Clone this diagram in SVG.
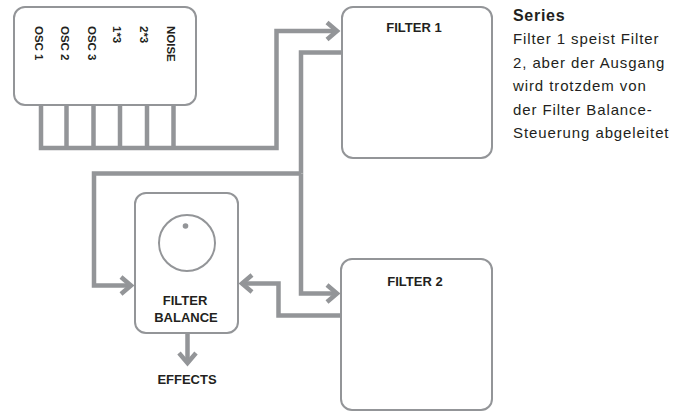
<svg xmlns="http://www.w3.org/2000/svg" width="688" height="413" viewBox="0 0 688 413">
  <defs>
    <marker id="chev" viewBox="-14 -12 18 24" markerWidth="18" markerHeight="24" refX="0" refY="0" orient="auto" markerUnits="userSpaceOnUse">
      <path d="M-10,-8.5 L0,0 L-10,8.5" fill="none" stroke="#939598" stroke-width="4.5" stroke-linejoin="miter" stroke-miterlimit="6"/>
    </marker>
  </defs>
  <style>
    .box { fill: #ffffff; stroke: #939598; stroke-width: 2; }
    .wire { fill: none; stroke: #939598; stroke-width: 4.5; stroke-linejoin: miter; stroke-linecap: butt; }
    .arrow { marker-end: url(#chev); }
    .lbl { font-family: "Liberation Sans", Arial, sans-serif; font-weight: bold; font-size: 13px; fill: #231f20; text-anchor: middle; }
    .osc { font-family: "Liberation Sans", Arial, sans-serif; font-weight: bold; font-size: 11.5px; fill: #231f20; }
    .title { font-family: "Liberation Sans", Arial, sans-serif; font-weight: bold; font-size: 16px; letter-spacing: 0.7px; fill: #231f20; }
    .body { font-family: "Liberation Sans", Arial, sans-serif; font-size: 15px; letter-spacing: 0.9px; fill: #231f20; }
  </style>

  <g id="connectors">
    <path class="wire" d="M66.5,105 V148"/>
    <path class="wire" d="M93.5,105 V148"/>
    <path class="wire" d="M120,105 V148"/>
    <path class="wire" d="M147,105 V148"/>
    <path class="wire" d="M173.5,105 V148"/>
    <path class="wire arrow" d="M41,105 V148 H276.5 V31 H337"/>
    <path class="wire" d="M342,52.5 H301 V173.5"/>
    <path class="wire arrow" d="M301,173.5 V293.5 H337"/>
    <path class="wire arrow" d="M301,173.5 H94 V285.5 H131"/>
    <path class="wire arrow" d="M341,315.5 H278.5 V283.5 H242"/>
    <path class="wire arrow" d="M187.5,333 V363"/>
  </g>

  <g id="oscillators">
    <rect class="box" x="14" y="7" width="182" height="98" rx="11"/>
    <text class="osc" transform="translate(34.5,26) rotate(90)">OSC 1</text>
    <text class="osc" transform="translate(61,26) rotate(90)">OSC 2</text>
    <text class="osc" transform="translate(87.5,26) rotate(90)">OSC 3</text>
    <text class="osc" transform="translate(113,26) rotate(90)">1*3</text>
    <text class="osc" transform="translate(139.5,26) rotate(90)">2*3</text>
    <text class="osc" transform="translate(167,26) rotate(90)">NOISE</text>
  </g>

  <g id="filter1">
    <rect class="box" x="342" y="7" width="150" height="151" rx="11"/>
    <text class="lbl" x="414" y="31.5">FILTER 1</text>
  </g>

  <g id="filter2">
    <rect class="box" x="341" y="259" width="151" height="151" rx="11"/>
    <text class="lbl" x="415" y="286">FILTER 2</text>
  </g>

  <g id="filter-balance">
    <rect class="box" x="135" y="193" width="103" height="140" rx="11"/>
    <circle cx="187" cy="243" r="28" fill="none" stroke="#939598" stroke-width="2"/>
    <circle cx="185.5" cy="226" r="2.8" fill="#939598"/>
    <text class="lbl" x="185" y="305">FILTER</text>
    <text class="lbl" x="186" y="322">BALANCE</text>
  </g>

  <g id="effects">
    <text class="lbl" x="187" y="384">EFFECTS</text>
  </g>

  <g id="description">
    <text class="title" x="513" y="21">Series</text>
    <text class="body" x="513" y="44">Filter 1 speist Filter</text>
    <text class="body" x="513" y="67.5">2, aber der Ausgang</text>
    <text class="body" x="513" y="91">wird trotzdem von</text>
    <text class="body" x="513" y="114.5">der Filter Balance-</text>
    <text class="body" x="513" y="138">Steuerung abgeleitet</text>
  </g>
</svg>
